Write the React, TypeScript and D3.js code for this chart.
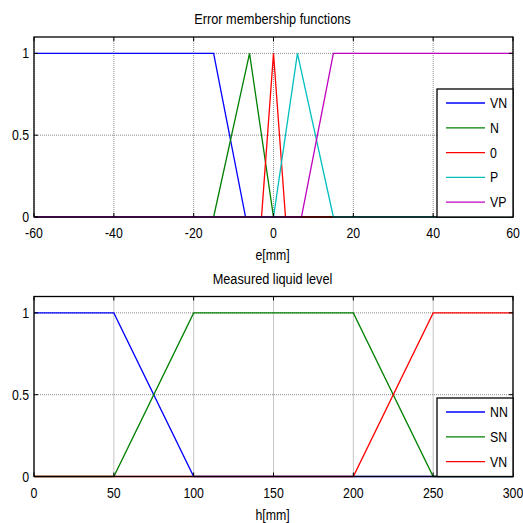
import React from "react";
import * as d3 from "d3";

// ---------- data ----------
const errDomain = [-60, 60];
const errTicks = [-60, -40, -20, 0, 20, 40, 60];
const errNames = ["VN", "N", "0", "P", "VP"];
const errColors = ["#0000ff", "#008000", "#ff0000", "#00bfbf", "#bf00bf"];
const errVN_x = [-60, -15, -7, 60];
const errVN_y = [1, 1, 0, 0];
const errN_x = [-60, -15, -6, 0, 60];
const errN_y = [0, 0, 1, 0, 0];
const err0_x = [-60, -3, 0, 3, 60];
const err0_y = [0, 0, 1, 0, 0];
const errP_x = [-60, 0, 6, 15, 60];
const errP_y = [0, 0, 1, 0, 0];
const errVP_x = [-60, 7, 15, 60];
const errVP_y = [0, 0, 1, 1];

const lvlDomain = [0, 300];
const lvlTicks = [0, 50, 100, 150, 200, 250, 300];
const lvlNames = ["NN", "SN", "VN"];
const lvlColors = ["#0000ff", "#008000", "#ff0000"];
const lvlNN_x = [0, 50, 100, 300];
const lvlNN_y = [1, 1, 0, 0];
const lvlSN_x = [0, 50, 100, 200, 250, 300];
const lvlSN_y = [0, 0, 1, 1, 0, 0];
const lvlVN_x = [0, 200, 250, 300];
const lvlVN_y = [0, 0, 1, 1];

const yTicks = [0, 0.5, 1];
const yDomain = [0, 1.1];

const FONT = "'Liberation Sans', Arial, sans-serif";
const SX = 0.85;

type Series = { name: string; color: string; xs: number[]; ys: number[] };

function T(props: { x: number; y: number; size: number; anchor?: string; children: React.ReactNode }) {
  const { x, y, size, anchor, children } = props;
  return (
    <text
      transform={`translate(${x},${y}) scale(${SX},1)`}
      fontSize={size}
      textAnchor={anchor || "start"}
      fill="#000"
    >
      {children}
    </text>
  );
}

function Panel(props: {
  top: number;
  title: string;
  xlabel: string;
  domain: number[];
  ticks: number[];
  series: Series[];
  legendTop: number;
}) {
  const { top, title, xlabel, domain, ticks, series, legendTop } = props;
  const left = 34,
    right = 513;
  const bottom = top + 180;
  const x = d3.scaleLinear().domain(domain).range([left, right]);
  const y = d3.scaleLinear().domain(yDomain).range([bottom, top]);
  const line = d3
    .line<[number, number]>()
    .x((d) => x(d[0]))
    .y((d) => y(d[1]));
  const legRight = right;
  const legLeft = 437;
  const legStep = 24.8;
  return (
    <g fontFamily={FONT}>
      <T x={(left + right) / 2 - 1} y={top - 13} size={15} anchor="middle">
        {title}
      </T>
      <rect x={left} y={top} width={right - left} height={bottom - top} fill="#fff" />
      {/* grid */}
      {ticks.map((t) => (
        <line key={"gx" + t} x1={x(t)} x2={x(t)} y1={top} y2={bottom} stroke="#8a8a8a" strokeWidth={1} strokeDasharray="1,1" />
      ))}
      {yTicks.map((t) => (
        <line key={"gy" + t} x1={left} x2={right} y1={y(t)} y2={y(t)} stroke="#8a8a8a" strokeWidth={1} strokeDasharray="1,1" />
      ))}
      {/* series */}
      {series.map((s) => (
        <path
          key={s.name}
          d={line(s.xs.map((v, i) => [v, s.ys[i]] as [number, number])) || ""}
          fill="none"
          stroke={s.color}
          strokeWidth={1.3}
        />
      ))}
      {/* ticks */}
      {ticks.map((t) => (
        <g key={"t" + t}>
          <line x1={x(t)} x2={x(t)} y1={bottom} y2={bottom - 4} stroke="#000" />
          <line x1={x(t)} x2={x(t)} y1={top} y2={top + 4} stroke="#000" />
          <T x={x(t)} y={bottom + 21} size={14.5} anchor="middle">
            {String(t)}
          </T>
        </g>
      ))}
      {yTicks.map((t) => (
        <g key={"yt" + t}>
          <line x1={left} x2={left + 4} y1={y(t)} y2={y(t)} stroke="#000" />
          <line x1={right} x2={right - 4} y1={y(t)} y2={y(t)} stroke="#000" />
          <T x={left - 5} y={y(t) + 5} size={14.5} anchor="end">
            {String(t)}
          </T>
        </g>
      ))}
      <rect x={left} y={top} width={right - left} height={bottom - top} fill="none" stroke="#000" strokeWidth={1.3} />
      <T x={(left + right) / 2 - 1} y={bottom + 43} size={14.5} anchor="middle">
        {xlabel}
      </T>
      {/* legend */}
      <rect x={legLeft} y={legendTop} width={legRight - legLeft} height={bottom - legendTop} fill="#fff" stroke="#000" strokeWidth={1.3} />
      {series.map((s, i) => {
        const yy = legendTop + 14 + i * legStep;
        return (
          <g key={"l" + s.name}>
            <line x1={446} x2={485} y1={yy} y2={yy} stroke={s.color} strokeWidth={1.3} />
            <T x={490} y={yy + 5} size={14.5}>
              {s.name}
            </T>
          </g>
        );
      })}
    </g>
  );
}

export default function App() {
  const errSeries: Series[] = [
    { name: errNames[0], color: errColors[0], xs: errVN_x, ys: errVN_y },
    { name: errNames[1], color: errColors[1], xs: errN_x, ys: errN_y },
    { name: errNames[2], color: errColors[2], xs: err0_x, ys: err0_y },
    { name: errNames[3], color: errColors[3], xs: errP_x, ys: errP_y },
    { name: errNames[4], color: errColors[4], xs: errVP_x, ys: errVP_y },
  ];
  const lvlSeries: Series[] = [
    { name: lvlNames[0], color: lvlColors[0], xs: lvlNN_x, ys: lvlNN_y },
    { name: lvlNames[1], color: lvlColors[1], xs: lvlSN_x, ys: lvlSN_y },
    { name: lvlNames[2], color: lvlColors[2], xs: lvlVN_x, ys: lvlVN_y },
  ];
  return (
    <svg
      width={523}
      height={523}
      style={{ position: "absolute", left: 0, top: 0, background: "#fff" }}
    >
      <rect x={0} y={0} width={523} height={523} fill="#fff" />
      <Panel
        top={37}
        title="Error membership functions"
        xlabel="e[mm]"
        domain={errDomain}
        ticks={errTicks}
        series={errSeries}
        legendTop={89}
      />
      <Panel
        top={296.5}
        title="Measured liquid level"
        xlabel="h[mm]"
        domain={lvlDomain}
        ticks={lvlTicks}
        series={lvlSeries}
        legendTop={398}
      />
    </svg>
  );
}
